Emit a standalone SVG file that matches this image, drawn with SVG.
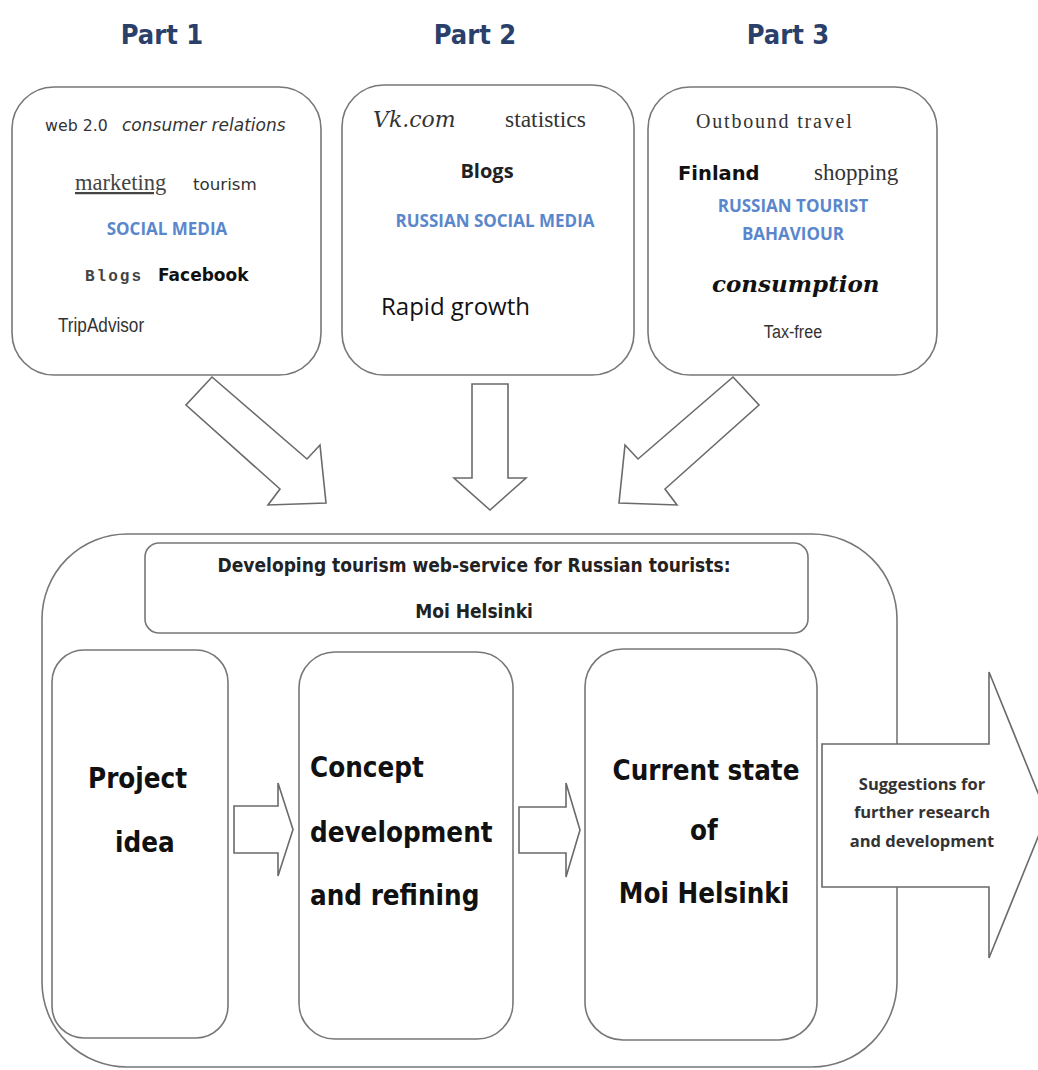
<svg xmlns="http://www.w3.org/2000/svg" width="1038" height="1070" viewBox="0 0 1038 1070">
<style>
.box{fill:#fff;stroke:#777;stroke-width:1.6}
.arrow{fill:#fff;stroke:#6a6a6a;stroke-width:1.6;stroke-linejoin:miter}
.part{font-family:"DejaVu Sans Condensed","DejaVu Sans",sans-serif;font-stretch:condensed;font-weight:bold;font-size:27px;fill:#2b3f6b;text-anchor:middle}
.blue{font-family:"Open Sans","Noto Sans",sans-serif;font-weight:bold;font-size:17px;fill:#5a87cc;text-anchor:middle}
.big{font-family:"DejaVu Sans Condensed","DejaVu Sans",sans-serif;font-stretch:condensed;font-weight:bold;font-size:27.5px;fill:#111}
.title{font-family:"DejaVu Sans Condensed","DejaVu Sans",sans-serif;font-stretch:condensed;font-weight:bold;font-size:19px;fill:#222;text-anchor:middle}
.sugg{font-family:"Open Sans","Noto Sans",sans-serif;font-weight:bold;font-size:16.5px;fill:#333;text-anchor:middle}
.mid{text-anchor:middle}
</style>

<g id="part-labels">
<text class="part" x="162" y="44">Part 1</text>
<text class="part" x="475" y="44">Part 2</text>
<text class="part" x="788" y="44">Part 3</text>
</g>

<g id="part1">
<rect class="box" x="12" y="87" width="309" height="288" rx="42"/>
<text x="45" y="131" font-family="DejaVu Sans, sans-serif" font-size="15.8" fill="#333">web 2.0</text>
<text x="122" y="131" font-family="DejaVu Sans, sans-serif" font-style="italic" font-size="17" fill="#333">consumer relations</text>
<text x="75" y="190" font-family="Liberation Serif, serif" font-size="22.5" fill="#444" text-decoration="underline">marketing</text>
<text x="193" y="190" font-family="DejaVu Sans, sans-serif" font-size="16.7" fill="#333">tourism</text>
<text class="blue" x="167" y="235">SOCIAL MEDIA</text>
<text x="85" y="281" font-family="Liberation Mono, monospace" font-weight="bold" font-size="16" letter-spacing="2" fill="#444">Blogs</text>
<text x="158" y="281" font-family="DejaVu Sans, sans-serif" font-weight="bold" font-size="17" fill="#111">Facebook</text>
<text transform="translate(58,332) scale(0.88,1)" font-family="Liberation Sans, Arial, sans-serif" font-size="19.5" fill="#333">TripAdvisor</text>
</g>

<g id="part2">
<rect class="box" x="342" y="85" width="292" height="290" rx="42"/>
<text x="373" y="127" font-family="DejaVu Serif, serif" font-style="italic" font-size="22" fill="#333">Vk.com</text>
<text x="505" y="127" font-family="Liberation Serif, serif" font-size="23.5" fill="#333">statistics</text>
<text x="487" y="178" font-family="Open Sans, sans-serif" font-weight="bold" font-size="20" fill="#222" text-anchor="middle">Blogs</text>
<text class="blue" x="495" y="227">RUSSIAN SOCIAL MEDIA</text>
<text x="381" y="315" font-family="Open Sans, sans-serif" font-size="24" fill="#111">Rapid growth</text>
</g>

<g id="part3">
<rect class="box" x="648" y="87" width="289" height="288" rx="42"/>
<text x="696" y="128" font-family="Liberation Serif, serif" font-size="20" letter-spacing="1.8" fill="#333">Outbound travel</text>
<text x="678" y="180" font-family="DejaVu Sans, sans-serif" font-weight="bold" font-size="19.5" fill="#111">Finland</text>
<text x="814" y="180" font-family="Liberation Serif, serif" font-size="23" fill="#333">shopping</text>
<text class="blue" x="793" y="212">RUSSIAN TOURIST</text>
<text class="blue" x="793" y="240">BAHAVIOUR</text>
<text x="712" y="292" font-family="DejaVu Serif, serif" font-style="italic" font-weight="bold" font-size="23" fill="#111">consumption</text>
<text transform="translate(793,338) scale(0.85,1)" font-family="Liberation Sans, Arial, sans-serif" font-size="19" fill="#333" text-anchor="middle">Tax-free</text>
</g>

<g id="container">
<rect class="box" x="42" y="534" width="855" height="533" rx="85" stroke-width="2"/>
</g>

<g id="title">
<rect class="box" x="145" y="543" width="663" height="90" rx="14"/>
<text class="title" x="474" y="572">Developing tourism web-service for Russian tourists:</text>
<text class="title" x="474" y="618">Moi Helsinki</text>
</g>

<g id="project-idea">
<rect class="box" x="52" y="650" width="176" height="388" rx="32"/>
<text class="big" x="88" y="788">Project</text>
<text class="big" x="115" y="852">idea</text>
</g>

<g id="concept">
<rect class="box" x="299" y="652" width="214" height="387" rx="36"/>
<text class="big" x="310" y="777">Concept</text>
<text class="big" x="310" y="842">development</text>
<text class="big" x="310" y="905">and refining</text>
</g>

<g id="current-state">
<rect class="box" x="585" y="649" width="232" height="391" rx="38"/>
<text class="big mid" x="706" y="780">Current state</text>
<text class="big mid" x="704" y="840">of</text>
<text class="big mid" x="704" y="903">Moi Helsinki</text>
</g>

<g id="connectors">
<polygon class="arrow" points="212,377 307,459 320,445 326,503 268,505 280,489 186,405"/>
<polygon class="arrow" points="472,384 508,384 508,478 526,478 490,510 454,478 472,478"/>
<polygon class="arrow" points="733,377 638,459 625,445 619,503 677,505 665,489 759,405"/>
<polygon class="arrow" points="234,806 278,806 278,783 293,829.5 278,876 278,853 234,853"/>
<polygon class="arrow" points="519,807 566,807 566,783 580,830 566,877 566,853 519,853"/>
</g>

<g id="suggestions">
<polygon class="arrow" points="822,744 989,744 989,672 1047,815 989,958 989,887 822,887"/>
<text class="sugg" x="922" y="790">Suggestions for</text>
<text class="sugg" x="922" y="818">further research</text>
<text class="sugg" x="922" y="847">and development</text>
</g>
</svg>
